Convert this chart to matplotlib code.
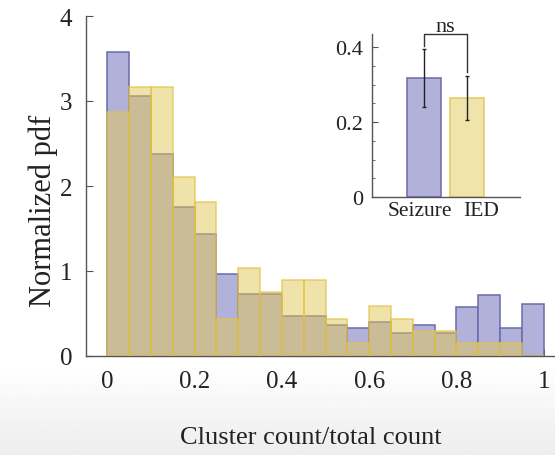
import numpy as np
import matplotlib
matplotlib.use("Agg")
import matplotlib.pyplot as plt
from matplotlib.transforms import offset_copy

# ---- data ----
bin_width = 0.05
bin_lefts = np.round(np.arange(20) * bin_width, 2)
seizure_pdf = [3.58, 3.06, 2.38, 1.75, 1.44, 0.97, 0.73, 0.73, 0.47, 0.47,
               0.37, 0.33, 0.40, 0.27, 0.37, 0.27, 0.58, 0.72, 0.33, 0.61]
ied_pdf = [2.87, 3.16, 3.16, 2.11, 1.81, 0.44, 1.04, 0.75, 0.90, 0.90,
           0.44, 0.15, 0.59, 0.44, 0.30, 0.30, 0.15, 0.15, 0.15, 0.0]

inset_labels = ["Seizure", "IED"]
inset_means = [0.318, 0.264]
inset_lower = [0.239, 0.206]
inset_upper = [0.395, 0.324]

x_ticks = [0, 0.2, 0.4, 0.6, 0.8, 1]
x_ticklabels = ["0", "0.2", "0.4", "0.6", "0.8", "1"]
y_ticks = [0, 1, 2, 3, 4]
inset_yticks = [0, 0.2, 0.4]

# ---- style ----
plt.rcParams['font.family'] = ['Liberation Serif', 'DejaVu Serif']
purple_face = "#b1b1da"
purple_edge = "#6a6aaa"
yellow_face = (225/255, 200/255, 85/255, 0.5)
yellow_edge = (228/255, 195/255, 70/255, 0.75)
spine_col = "#555555"
text_col = "#222222"

fig = plt.figure(figsize=(5.55, 4.56), dpi=100)

# subtle gray gradient at the bottom (screenshot background)
bg = fig.add_axes([0, 0, 1, 0.2], zorder=-10)
grad = np.linspace(0.93, 1.0, 100).reshape(-1, 1)
bg.imshow(grad, aspect="auto", cmap="gray", vmin=0, vmax=1, origin="lower",
          extent=[0, 1, 0, 1])
bg.axis("off")

ax = fig.add_axes([86/555, (456-357)/456, (555-86)/555, (357-17)/456])
ax.patch.set_alpha(0)
ax.bar(bin_lefts, seizure_pdf, width=bin_width, align="edge",
       color=purple_face, edgecolor=purple_edge, linewidth=1.1, zorder=2)
ax.bar(bin_lefts, ied_pdf, width=bin_width, align="edge",
       color=yellow_face, edgecolor=yellow_edge, linewidth=1.1, zorder=3)

ax.set_xlim(-0.049, 1.026)
ax.set_ylim(0, 4)
ax.set_xticks(x_ticks)
ax.set_xticklabels(x_ticklabels)
ax.set_yticks(y_ticks)
for s in ["top", "right"]:
    ax.spines[s].set_visible(False)
for s in ["left", "bottom"]:
    ax.spines[s].set_color(spine_col)
    ax.spines[s].set_linewidth(1.0)
ax.tick_params(direction="in", length=5, width=0.8, color=spine_col,
               labelsize=18, labelcolor=text_col, pad=10)
ax.set_xlabel("Cluster count/total count", fontsize=19, color=text_col)
ax.xaxis.set_label_coords(0.48, -0.205)
ax.set_ylabel("Normalized pdf", fontsize=22, color=text_col)
ax.yaxis.set_label_coords(-0.06, 0.43)

# ---- inset ----
ins = fig.add_axes([371.5/555, (456-198)/456, 148.5/555, (198-35)/456])
ins.patch.set_alpha(0)
xpos = np.arange(len(inset_labels))
means = np.array(inset_means)
yerr = np.array([means - np.array(inset_lower), np.array(inset_upper) - means])
ins.bar(xpos, means, width=0.785,
        color=[purple_face, "#f1e4aa"], edgecolor=[purple_edge, "#e4c860"],
        linewidth=1.1, zorder=2)
ins.errorbar(xpos, means, yerr=yerr, fmt="none", ecolor="#222222",
             elinewidth=1.0, capsize=1.5, capthick=1.0, zorder=3)
ins.set_xlim(-1.2, 2.22)
ins.set_ylim(0, 0.435)
ins.set_xticks(xpos)
ins.set_xticklabels(inset_labels)
ins.set_yticks(inset_yticks)
ins.set_yticklabels(["0", "0.2", "0.4"])
ins.set_yticks(np.arange(0.05, 0.44, 0.05), minor=True)
for s in ["top", "right"]:
    ins.spines[s].set_visible(False)
for s in ["left", "bottom"]:
    ins.spines[s].set_color(spine_col)
    ins.spines[s].set_linewidth(1.0)
ins.tick_params(direction="in", length=4, width=0.8, color=spine_col,
                labelsize=16, labelcolor=text_col, pad=6)
ins.tick_params(axis="y", which="minor", direction="in", length=2.5,
                width=0.6, color=spine_col)
ins.tick_params(axis="x", pad=3, labelsize=15.5)
# nudge category labels apart as in the reference
xl = ins.get_xticklabels()
shifts = [-4, 14]
for lab, dx in zip(xl, shifts):
    lab.set_transform(offset_copy(lab.get_transform(), fig=fig, x=dx, y=0,
                                  units="dots"))

# significance bracket
yb = 0.435
ins.plot([xpos[0], xpos[0], xpos[1], xpos[1]],
         [inset_upper[0] + 0.009, yb, yb, inset_upper[1] + 0.009],
         color="#333333", lw=1.0, clip_on=False, zorder=4)
ins.text((xpos[0] + xpos[1]) / 2, yb + 0.008, "ns", ha="center",
         va="baseline", fontsize=16, color=text_col)

fig.savefig("out.png", dpi=100)
